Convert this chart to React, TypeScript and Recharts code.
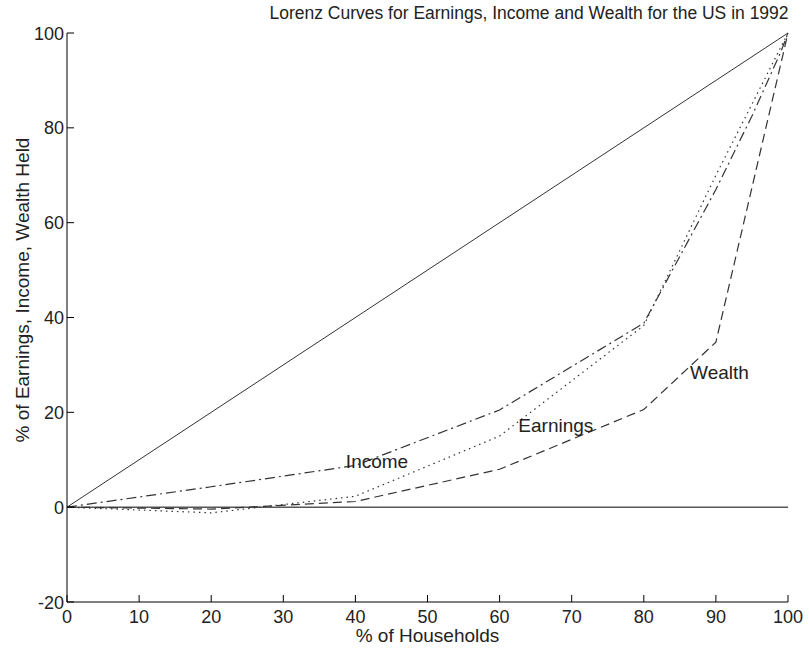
import {
  LineChart,
  Line,
  XAxis,
  YAxis,
  ReferenceLine,
  ReferenceDot,
  Label,
} from "recharts";

// Cumulative % of households (x) against cumulative % held (y)
const householdsPct = [0, 20, 40, 60, 80, 90, 95, 99, 100];
const earningsShare = [0, -1.2, 2.3, 15, 38.3, 70, 85, 97, 100];
const incomeShare = [0, 4.3, 8.8, 20.5, 38.8, 67, 82.5, 96, 100];

const wealthHouseholdsPct = [0, 20, 40, 60, 80, 90, 100];
const wealthShare = [0, -0.4, 1.2, 8, 20.6, 34.8, 100];

const equalityPct = [0, 100];

const xTicks = [0, 10, 20, 30, 40, 50, 60, 70, 80, 90, 100];
const yTicks = [-20, 0, 20, 40, 60, 80, 100];

const toRows = (xs: number[], ys: number[]) => xs.map((x, i) => ({ x, y: ys[i] }));

const earningsData = toRows(householdsPct, earningsShare);
const incomeData = toRows(householdsPct, incomeShare);
const wealthData = toRows(wealthHouseholdsPct, wealthShare);
const equalityData = toRows(equalityPct, equalityPct);

// where the curve names sit, in data units
const curveLabels = [
  { name: "Income", x: 43, y: 9.6 },
  { name: "Earnings", x: 67.8, y: 17.2 },
  { name: "Wealth", x: 90.5, y: 28.4 },
];

const FONT = "'Liberation Sans', Arial, Helvetica, sans-serif";
const FS = 19;
const TICK_FS = 18;
const TICK_LEN = 7;
const LINE_COLOR = "#333";
const TEXT_COLOR = "#222";

const BottomTick = (props: any) => {
  const { x, y, payload } = props;
  return (
    <g>
      <line x1={x} y1={y} x2={x} y2={y - TICK_LEN} stroke="#000" />
      <text x={x} y={y + 20.5} textAnchor="middle" fontSize={TICK_FS} fontFamily={FONT} fill={TEXT_COLOR}>
        {payload.value}
      </text>
    </g>
  );
};

const TopTick = (props: any) => {
  const { x, y } = props;
  return <line x1={x} y1={y} x2={x} y2={y + TICK_LEN} stroke="#000" />;
};

const LeftTick = (props: any) => {
  const { x, y, payload } = props;
  return (
    <g>
      <line x1={x} y1={y} x2={x + TICK_LEN} y2={y} stroke="#000" />
      <text x={x - 3} y={y + 6.5} textAnchor="end" fontSize={TICK_FS} fontFamily={FONT} fill={TEXT_COLOR}>
        {payload.value}
      </text>
    </g>
  );
};

const RightTick = (props: any) => {
  const { x, y } = props;
  return <line x1={x} y1={y} x2={x - TICK_LEN} y2={y} stroke="#000" />;
};

const YTitle = () => (
  <text
    x={22}
    y={290}
    transform="rotate(-90 22 290)"
    textAnchor="middle"
    dominantBaseline="central"
    fontSize={FS}
    fontFamily={FONT}
    fill={TEXT_COLOR}
  >
    % of Earnings, Income, Wealth Held
  </text>
);

export default function App() {
  return (
    <div
      style={{
        position: "absolute",
        left: 0,
        top: 0,
        width: 809,
        height: 648,
        background: "#fff",
        fontFamily: FONT,
      }}
    >
      <div
        style={{
          position: "absolute",
          left: 229,
          top: 3,
          width: 600,
          textAlign: "center",
          fontSize: 17.5,
          color: TEXT_COLOR,
          whiteSpace: "nowrap",
        }}
      >
        Lorenz Curves for Earnings, Income and Wealth for the US in 1992
      </div>
      <LineChart width={809} height={648} margin={{ top: 33, right: 21, bottom: 16, left: 7 }}>
        <XAxis
          type="number"
          dataKey="x"
          domain={[0, 100]}
          ticks={xTicks}
          height={30}
          tickSize={0}
          tickMargin={0}
          tick={BottomTick}
          axisLine={{ stroke: "#000" }}
          interval={0}
        >
          <Label
            value="% of Households"
            position="bottom"
            offset={-3}
            fontSize={FS}
            fontFamily={FONT}
            fill={TEXT_COLOR}
          />
        </XAxis>
        <XAxis
          xAxisId="top"
          orientation="top"
          type="number"
          dataKey="x"
          domain={[0, 100]}
          ticks={xTicks}
          height={0}
          tickSize={0}
          tickMargin={0}
          tick={TopTick}
          axisLine={{ stroke: "#000" }}
          interval={0}
        />
        <YAxis
          type="number"
          domain={[-20, 100]}
          ticks={yTicks}
          width={60}
          tickSize={0}
          tickMargin={0}
          tick={LeftTick}
          axisLine={{ stroke: "#000" }}
          interval={0}
        >
          <Label content={YTitle} />
        </YAxis>
        <YAxis
          yAxisId="right"
          orientation="right"
          type="number"
          domain={[-20, 100]}
          ticks={yTicks}
          width={0}
          tickSize={0}
          tickMargin={0}
          tick={RightTick}
          axisLine={{ stroke: "#000" }}
          interval={0}
        />
        <ReferenceLine y={0} stroke="#000" strokeWidth={1} />
        <Line
          data={equalityData}
          dataKey="y"
          stroke={LINE_COLOR}
          strokeWidth={1}
          dot={false}
          isAnimationActive={false}
        />
        <Line
          data={earningsData}
          dataKey="y"
          stroke={LINE_COLOR}
          strokeWidth={1.2}
          strokeDasharray="1.5 4"
          dot={false}
          isAnimationActive={false}
        />
        <Line
          data={incomeData}
          dataKey="y"
          stroke={LINE_COLOR}
          strokeWidth={1.2}
          strokeDasharray="10 4 2 4"
          dot={false}
          isAnimationActive={false}
        />
        <Line
          data={wealthData}
          dataKey="y"
          stroke={LINE_COLOR}
          strokeWidth={1.2}
          strokeDasharray="9 5"
          dot={false}
          isAnimationActive={false}
        />
        {curveLabels.map((c) => (
          <ReferenceDot
            key={c.name}
            x={c.x}
            y={c.y}
            r={0}
            fill="none"
            stroke="none"
            label={{
              value: c.name,
              position: "center",
              fontSize: FS,
              fontFamily: FONT,
              fill: TEXT_COLOR,
            }}
          />
        ))}
      </LineChart>
    </div>
  );
}
